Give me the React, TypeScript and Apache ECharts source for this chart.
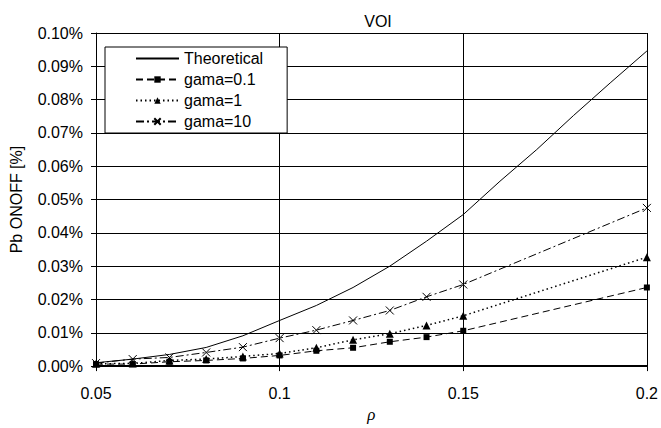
import React, { useEffect, useRef } from "react";
import * as echarts from "echarts";

const rho = [0.05, 0.06, 0.07, 0.08, 0.09, 0.1, 0.11, 0.12, 0.13, 0.14, 0.15, 0.16, 0.17, 0.18, 0.19, 0.2];
const theoretical = [0.0010, 0.0021, 0.0035, 0.0056, 0.0091, 0.0137, 0.0182, 0.0236, 0.0300, 0.0375, 0.0455, 0.0555, 0.0650, 0.0752, 0.0850, 0.0946];

const rhoSim = [0.05, 0.06, 0.07, 0.08, 0.09, 0.1, 0.11, 0.12, 0.13, 0.14, 0.15, 0.2];
const gama01 = [0.0006, 0.0006, 0.0013, 0.0017, 0.0023, 0.0032, 0.0046, 0.0055, 0.0073, 0.0087, 0.0106, 0.0236];
const gama1 = [0.0007, 0.0008, 0.0017, 0.0021, 0.0029, 0.0038, 0.0055, 0.0079, 0.0097, 0.0122, 0.0151, 0.0327];
const gama10 = [0.0009, 0.0021, 0.0026, 0.0041, 0.0057, 0.0084, 0.0108, 0.0137, 0.0167, 0.0208, 0.0245, 0.0475];

const seriesNames = ["Theoretical", "gama=0.1", "gama=1", "gama=10"];
const title = "VOI";
const yName = "Pb ONOFF [%]";
const xName = "ρ";

const pair = (xs: number[], ys: number[]) => xs.map((x, i) => [x, ys[i]]);

const FONT = "'Liberation Sans', Arial, sans-serif";
const FS = 16;

export default function App() {
  const ref = useRef<HTMLDivElement>(null);
  useEffect(() => {
    if (!ref.current) return;
    const chart = echarts.init(ref.current, null, { renderer: "svg" });
    const crossPath = "path://M0,0L10,10M10,0L0,10";
    chart.setOption({
      animation: false,
      backgroundColor: "#fff",
      textStyle: { fontFamily: FONT, color: "#000" },
      title: {
        text: title,
        left: 373,
        top: 8,
        textAlign: "center",
        textStyle: { fontFamily: FONT, fontSize: FS, fontWeight: "normal", color: "#000" },
      },
      grid: { left: 96, right: 11, top: 33, bottom: 45.5, containLabel: false },
      legend: {
        orient: "vertical",
        left: 105,
        top: 47,
        data: [
          { name: seriesNames[0], itemStyle: { opacity: 0 } },
          { name: seriesNames[1] },
          { name: seriesNames[2] },
          { name: seriesNames[3] },
        ],
        backgroundColor: "#fff",
        borderColor: "#000",
        borderWidth: 1,
        borderRadius: 0,
        padding: [3, 24, 3, 30],
        itemWidth: 43,
        itemHeight: 8,
        itemGap: 4,
        textStyle: { fontFamily: FONT, fontSize: FS, color: "#000", lineHeight: 17 },
      },
      xAxis: {
        type: "value",
        min: 0.05,
        max: 0.2,
        interval: 0.05,
        name: xName,
        nameLocation: "middle",
        nameGap: 20,
        nameTextStyle: { fontFamily: "'Liberation Serif', serif", fontStyle: "italic", fontSize: 17, color: "#000" },
        axisLine: { lineStyle: { color: "#000", width: 2 } },
        axisTick: { show: true, length: 5, lineStyle: { color: "#000" } },
        axisLabel: {
          fontFamily: FONT,
          fontSize: FS,
          color: "#000",
          margin: 19,
          formatter: (v: number) => String(+v.toFixed(2)),
        },
        splitLine: { show: true, lineStyle: { color: "#000", width: 1 } },
      },
      yAxis: {
        type: "value",
        min: 0,
        max: 0.1,
        interval: 0.01,
        name: yName,
        nameLocation: "middle",
        nameGap: 72,
        nameTextStyle: { fontFamily: FONT, fontSize: FS, color: "#000" },
        axisLine: { show: true, lineStyle: { color: "#000", width: 1 } },
        axisTick: { show: true, length: 5, lineStyle: { color: "#000" } },
        axisLabel: {
          fontFamily: FONT,
          fontSize: FS,
          color: "#000",
          margin: 13,
          formatter: (v: number) => v.toFixed(2) + "%",
        },
        splitLine: { show: true, lineStyle: { color: "#000", width: 1 } },
      },
      series: [
        {
          name: seriesNames[0],
          type: "line",
          data: pair(rho, theoretical),
          showSymbol: false,
          symbol: "none",
          lineStyle: { color: "#000", width: 1, type: "solid" },
          itemStyle: { color: "#000" },
        },
        {
          name: seriesNames[1],
          type: "line",
          data: pair(rhoSim, gama01),
          symbol: "rect",
          symbolSize: 6,
          lineStyle: { color: "#000", width: 1, type: [7, 4] },
          itemStyle: { color: "#000" },
        },
        {
          name: seriesNames[2],
          type: "line",
          data: pair(rhoSim, gama1),
          symbol: "triangle",
          symbolSize: 8,
          lineStyle: { color: "#000", width: 1.5, type: [1.5, 3] },
          itemStyle: { color: "#000" },
        },
        {
          name: seriesNames[3],
          type: "line",
          data: pair(rhoSim, gama10),
          symbol: crossPath,
          symbolSize: 8,
          lineStyle: { color: "#000", width: 1, type: [8, 3, 2, 3] },
          itemStyle: { color: "none", borderColor: "#000", borderWidth: 1 },
        },
      ],
    });
    return () => chart.dispose();
  }, []);
  return (
    <div
      ref={ref}
      style={{ position: "fixed", left: 0, top: 0, width: 661, height: 428 }}
    />
  );
}
